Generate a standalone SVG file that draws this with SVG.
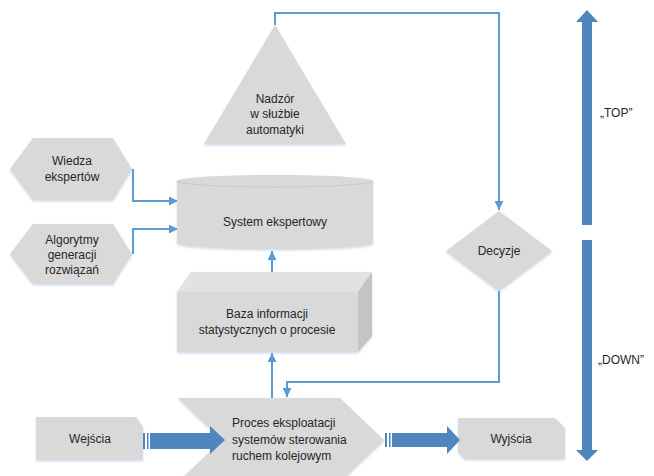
<svg xmlns="http://www.w3.org/2000/svg" width="654" height="476" viewBox="0 0 654 476">
<defs>
<style>
.shape{fill:#d9d9d9;filter:url(#sh)}
.t{font-family:"Liberation Sans",Arial,sans-serif;font-size:12px;fill:#262626;text-anchor:middle}
.tl{font-family:"Liberation Sans",Arial,sans-serif;font-size:12px;fill:#262626}
.con{fill:none;stroke:#5b9bd5;stroke-width:2}
.big{fill:#4f86bd}
</style>
<filter id="sh" x="-10%" y="-10%" width="120%" height="130%">
<feDropShadow dx="0" dy="1.5" stdDeviation="1.2" flood-color="#8fb0d6" flood-opacity="0.45"/>
</filter>
<marker id="ah" viewBox="0 0 10 10" refX="10" refY="5" markerWidth="9" markerHeight="9" markerUnits="userSpaceOnUse" orient="auto">
<path d="M0,0 L10,5 L0,10 Z" fill="#5b9bd5"/>
</marker>
</defs>

<g id="connectors">
<polyline class="con" points="275,25 275,13 499,13 499,210" marker-end="url(#ah)"/>
<polyline class="con" points="133,169 133,201 178,201" marker-end="url(#ah)"/>
<polyline class="con" points="133,254 133,229 178,229" marker-end="url(#ah)"/>
<line class="con" x1="272" y1="272" x2="272" y2="251" marker-end="url(#ah)"/>
<line class="con" x1="272" y1="399" x2="272" y2="353" marker-end="url(#ah)"/>
<polyline class="con" points="499,291 499,382 287,382 287,397" marker-end="url(#ah)"/>
</g>

<g id="nadzor">
<polygon class="shape" points="275,25 346,144 204,144"/>
<text class="t" x="275" y="103">Nadzór</text>
<text class="t" x="275" y="118">w służbie</text>
<text class="t" x="275" y="134">automatyki</text>
</g>

<g id="wiedza">
<polygon class="shape" points="10,169 33,138 113,138 132,169 113,200 33,200"/>
<text class="t" x="72" y="165">Wiedza</text>
<text class="t" x="72" y="181">ekspertów</text>
</g>

<g id="algorytmy">
<polygon class="shape" points="10,254 33,224 113,224 132,254 113,284 33,284"/>
<text class="t" x="72" y="244">Algorytmy</text>
<text class="t" x="72" y="259">generacji</text>
<text class="t" x="72" y="274">rozwiązań</text>
</g>

<g id="system">
<path class="shape" d="M177,181 A98,6 0 0 1 373,181 L373,243 A98,6 0 0 1 177,243 Z"/>
<path d="M177,181 A98,6 0 0 0 373,181" fill="none" stroke="#c8c8c8" stroke-width="1"/>
<text class="t" x="275" y="226">System ekspertowy</text>
</g>

<g id="baza">
<g filter="url(#sh)">
<polygon points="177,292 358,292 358,352 177,352" fill="#d9d9d9"/>
<polygon points="177,292 191,272 372,272 358,292" fill="#e2e2e2"/>
<polygon points="358,292 372,272 372,336 358,352" fill="#c4c4c4"/>
</g>
<text class="t" x="267" y="318">Baza informacji</text>
<text class="t" x="267" y="334">statystycznych o procesie</text>
</g>

<g id="decyzje">
<polygon class="shape" points="499,211 552,251 499,291 446,251"/>
<text class="t" x="499" y="255">Decyzje</text>
</g>

<g id="proces">
<polygon class="shape" points="178,398 340,398 384,440 340,482 178,482 222,440"/>
<text class="tl" x="232" y="427">Proces eksploatacji</text>
<text class="tl" x="232" y="444">systemów sterowania</text>
<text class="tl" x="232" y="460">ruchem kolejowym</text>
</g>

<g id="wejscia">
<polygon class="shape" points="36,417 136,417 143,427 143,460 36,460"/>
<text class="t" x="90" y="443">Wejścia</text>
</g>

<g id="wyjscia">
<polygon class="shape" points="458,418 555,418 565,428 565,459 465,459 458,452"/>
<text class="t" x="511" y="443">Wyjścia</text>
</g>

<g id="big-arrows">
<rect class="big" x="143" y="433" width="2" height="16"/>
<rect class="big" x="147" y="433" width="1.5" height="16"/>
<polygon class="big" points="150,433 210,433 210,426 225,440 210,454 210,449 150,449"/>
<rect class="big" x="385" y="433" width="2" height="14"/>
<rect class="big" x="389" y="433" width="1.5" height="14"/>
<polygon class="big" points="392,433 447,433 447,426 460,440 447,454 447,447 392,447"/>
<polygon class="big" points="587,10 598,22 592,22 592,225 582,225 582,22 576,22"/>
<polygon class="big" points="582,240 592,240 592,450 598,450 587,461 576,450 582,450"/>
</g>

<g id="labels">
<text class="tl" x="600" y="117">„TOP”</text>
<text class="tl" x="598" y="364">„DOWN”</text>
</g>
</svg>
